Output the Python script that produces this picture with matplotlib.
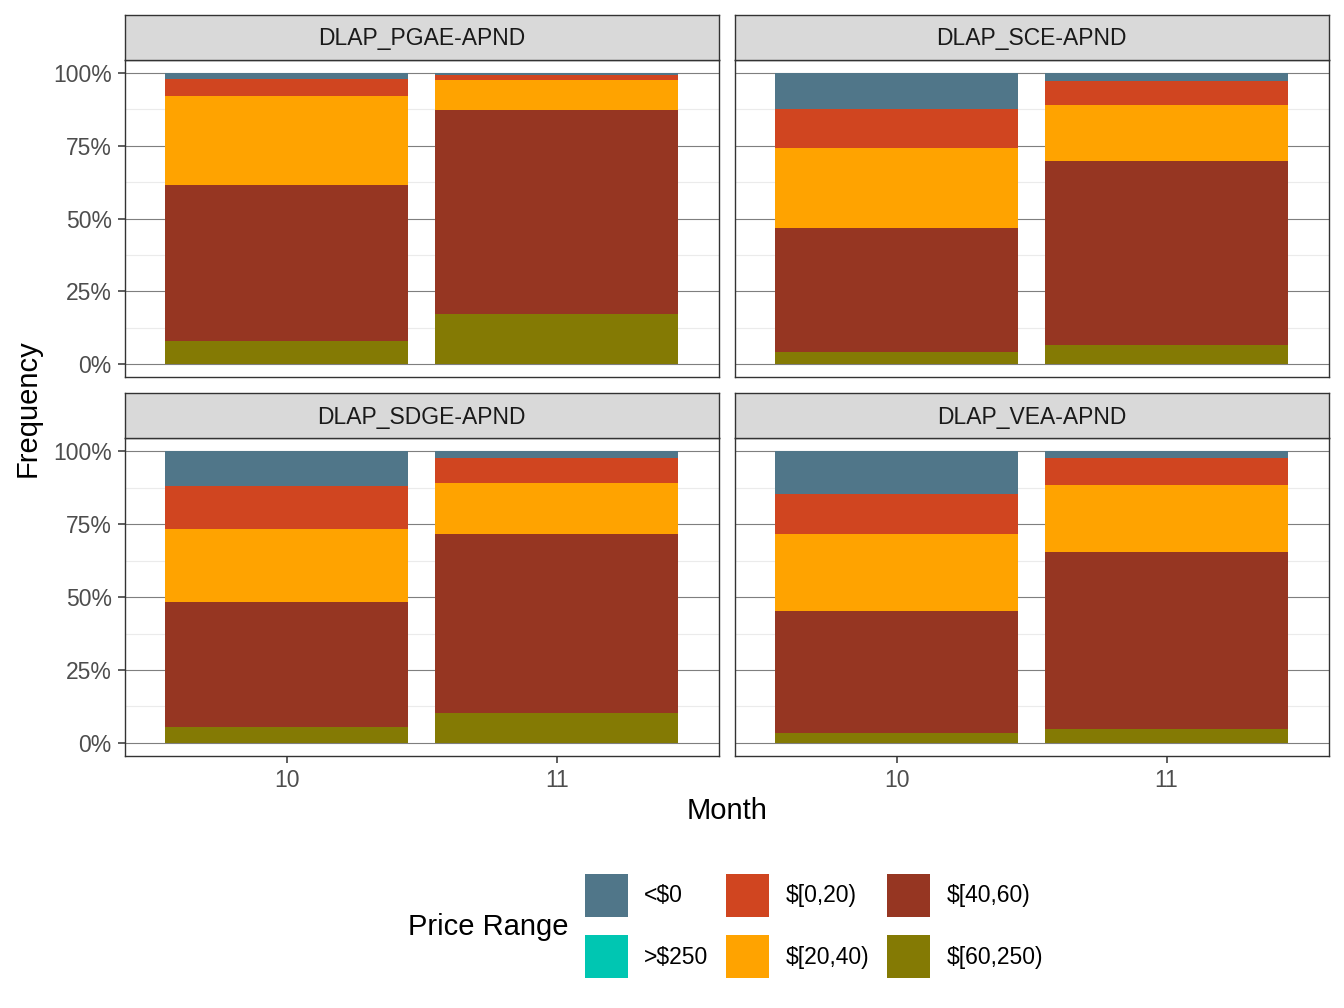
import matplotlib
matplotlib.use("Agg")
import matplotlib.pyplot as plt
from matplotlib.patches import Patch
import numpy as np

plt.rcParams['font.family'] = ['Liberation Sans', 'DejaVu Sans']

regions = ["DLAP_PGAE-APND", "DLAP_SCE-APND", "DLAP_SDGE-APND", "DLAP_VEA-APND"]
months = ["10", "11"]
price_ranges = ["<$0", ">$250", "$[0,20)", "$[20,40)", "$[40,60)", "$[60,250)"]
colors = ["#507689", "#00C6B2", "#D04520", "#FFA300", "#963622", "#847A04"]

# percentages per (region, month): PGAE10, PGAE11, SCE10, SCE11, SDGE10, SDGE11, VEA10, VEA11
lt0      = [2.2, 0.6, 12.3, 2.6, 11.9, 2.2, 14.6, 2.2]
gt250    = [0.0, 0.0, 0.0, 0.0, 0.0, 0.0, 0.0, 0.0]
r0_20    = [5.6, 1.7, 13.5, 8.3, 14.6, 8.7, 13.6, 9.4]
r20_40   = [30.8, 10.4, 27.3, 19.4, 25.2, 17.6, 26.6, 22.8]
r40_60   = [53.6, 70.1, 42.9, 63.2, 42.8, 61.1, 41.7, 60.8]
r60_250  = [7.8, 17.2, 4.0, 6.5, 5.5, 10.4, 3.5, 4.8]

series = [lt0, gt250, r0_20, r20_40, r40_60, r60_250]
yticks = [0, 0.25, 0.5, 0.75, 1.0]
ytick_labels = ["0%", "25%", "50%", "75%", "100%"]

W, H = 1344, 1008
fig = plt.figure(figsize=(W / 100, H / 100), dpi=100)

def rect(x0, y0, x1, y1):
    return [x0 / W, 1 - y1 / H, (x1 - x0) / W, (y1 - y0) / H]

cols_x = [(125, 718.7), (734.7, 1328.5)]
rows_y = [((15, 60), (60, 377)), ((393.3, 438.3), (438.3, 756))]

tick_fs = 16.5
strip_fs = 16.5
for idx, region in enumerate(regions):
    r, c = divmod(idx, 2)
    (sx0, sx1) = cols_x[c]
    (st0, st1), (py0, py1) = rows_y[r]
    ax = fig.add_axes(rect(sx0, py0, sx1, py1))
    sax = fig.add_axes(rect(sx0, st0, sx1, st1))
    sax.set_facecolor("#D9D9D9")
    sax.set_xticks([]); sax.set_yticks([])
    for sp in sax.spines.values():
        sp.set_color("#333333"); sp.set_linewidth(1.0)
    sax.text(0.5, 0.47, region, ha='center', va='center', fontsize=strip_fs,
             color='#1A1A1A', transform=sax.transAxes)

    vals = np.array([[s[idx * 2 + m] for s in series] for m in range(2)])
    vals = vals / vals.sum(axis=1, keepdims=True)
    x = np.arange(1, 3)
    bottom = np.zeros(2)
    for k in range(len(series) - 1, -1, -1):
        ax.bar(x, vals[:, k], width=0.9, bottom=bottom, color=colors[k],
               linewidth=0, zorder=2)
        bottom += vals[:, k]

    ax.set_xlim(0.4, 2.6)
    ax.set_ylim(-0.045, 1.045)
    ax.set_yticks(yticks)
    ax.set_yticks([0.125, 0.375, 0.625, 0.875], minor=True)
    ax.set_xticks(x)
    ax.grid(which='major', axis='y', color='#7F7F7F', linewidth=0.8, zorder=0)
    ax.grid(which='minor', axis='y', color='#EBEBEB', linewidth=0.8, zorder=0)
    ax.set_axisbelow(True)
    for sp in ax.spines.values():
        sp.set_color("#333333"); sp.set_linewidth(1.0)
    ax.tick_params(which='minor', length=0)
    ax.tick_params(which='major', length=5.3, width=1.1, color='#333333',
                   labelsize=tick_fs, labelcolor='#4D4D4D', pad=4.3)
    if c == 0:
        ax.set_yticklabels(ytick_labels)
    else:
        ax.tick_params(axis='y', length=0, labelleft=False)
    if r == 1:
        ax.set_xticklabels(months)
    else:
        ax.tick_params(axis='x', length=0, labelbottom=False)

fig.text(28 / W, 1 - 408 / H, "Frequency", rotation=90, ha='center', va='center',
         fontsize=21, color='black')
fig.text(727 / W, 1 - 811 / H, "Month", ha='center', va='center',
         fontsize=21, color='black')

handles = [Patch(facecolor=col, edgecolor='none') for col in colors]
leg_fs = 16.5
fig.legend(handles, price_ranges, ncol=3, loc='upper left',
           bbox_to_anchor=(585 / W, 1 - 874 / H), frameon=False,
           fontsize=leg_fs, handlelength=1.87, handleheight=2.51,
           handletextpad=0.7, columnspacing=0.8, labelspacing=0.79,
           borderpad=0, borderaxespad=0)
fig.text(408 / W, 1 - 927 / H, "Price Range", ha='left', va='center',
         fontsize=21, color='black')

fig.savefig("out.png", dpi=100)
